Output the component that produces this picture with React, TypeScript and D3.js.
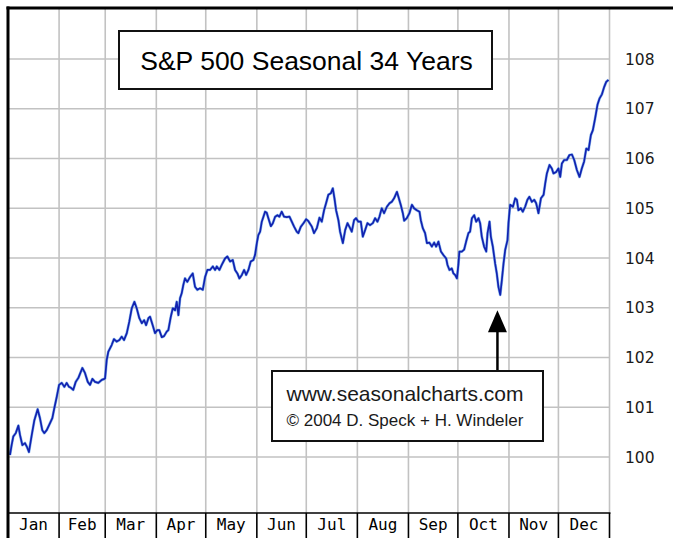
import React, { useRef, useEffect } from 'react'
import * as d3 from 'd3'

const months = ['Jan', 'Feb', 'Mar', 'Apr', 'May', 'Jun', 'Jul', 'Aug', 'Sep', 'Oct', 'Nov', 'Dec']
const monthDays = [31, 28, 31, 30, 31, 30, 31, 31, 30, 31, 30, 31]
const yTicks = [100, 101, 102, 103, 104, 105, 106, 107, 108]

// day of year (0..365)
const days = [
  1.2, 2.2, 3.2, 4.7, 6.3, 7.3, 8.7, 10.3, 11.4, 12.7, 14.4, 16.0, 18.0, 19.4, 20.8, 22.0, 23.5, 25.5, 26.9, 28.1,
  29.6, 31.0, 32.6, 34.2, 35.6, 37.0, 38.2, 39.6, 41.1, 42.7, 45.1, 46.7, 48.4, 49.8, 51.2, 52.8, 54.8, 56.9, 58.5, 58.9,
  59.9, 60.9, 62.9, 64.3, 66.0, 67.6, 69.0, 70.4, 72.1, 73.6, 75.1, 76.7, 78.1, 79.7, 81.2, 82.6, 83.8, 85.2, 86.2, 87.8,
  89.2, 90.6, 91.8, 93.3, 94.7, 96.3, 97.3, 98.8, 100.0, 101.4, 102.4, 103.4, 104.4, 105.4, 106.4, 107.4, 108.8, 110.5, 112.1, 113.5,
  114.9, 116.5, 118.2, 119.6, 121.0, 122.6, 124.3, 125.7, 126.7, 128.3, 129.7, 131.7, 133.1, 134.8, 136.4, 137.8, 139.2, 140.4, 141.9, 143.3,
  144.5, 145.9, 147.3, 148.9, 149.9, 151.0, 151.9, 153.0, 154.0, 155.0, 156.0, 157.0, 158.0, 159.5, 160.7, 162.1, 163.5, 164.7, 166.1, 167.5,
  169.2, 170.8, 172.2, 173.6, 175.2, 176.2, 177.7, 179.3, 180.9, 182.3, 184.4, 185.7, 187.4, 189.0, 190.4, 191.8, 193.0, 194.4, 195.9, 197.1,
  198.1, 199.1, 200.5, 201.5, 203.2, 204.6, 206.0, 207.6, 208.6, 210.0, 211.2, 212.6, 214.1, 215.3, 216.7, 218.1, 219.7, 221.4, 222.8, 224.2,
  225.4, 226.8, 228.2, 229.9, 231.5, 232.9, 234.3, 236.0, 236.9, 238.4, 239.6, 240.4, 242.0, 243.6, 245.1, 246.4, 248.1, 249.7, 250.5, 251.7,
  253.1, 254.2, 255.7, 257.2, 258.6, 259.8, 261.2, 262.7, 264.2, 265.9, 266.7, 267.9, 269.3, 270.3, 271.3, 272.4, 273.3, 273.9, 275.4, 276.8,
  278.0, 279.4, 280.4, 281.5, 282.9, 284.1, 285.5, 286.5, 287.5, 288.9, 290.2, 291.0, 292.2, 293.0, 294.2, 295.6, 296.6, 297.6, 298.7, 299.7,
  300.7, 301.7, 303.1, 303.7, 304.7, 306.4, 307.8, 308.8, 309.7, 311.2, 312.4, 313.8, 315.2, 316.4, 317.9, 319.3, 320.5, 321.9, 323.4, 325.0,
  326.0, 327.0, 328.6, 330.0, 331.0, 332.6, 334.0, 335.1, 336.1, 337.5, 339.1, 340.7, 342.2, 343.6, 345.2, 346.8, 348.2, 349.6, 350.9, 352.3,
  353.7, 354.9, 356.3, 357.7, 359.0, 360.4, 361.8, 363.0, 364.4,
]
const values = [
  100.04, 100.24, 100.41, 100.48, 100.63, 100.44, 100.24, 100.28, 100.21, 100.10, 100.44, 100.74, 100.96, 100.78, 100.54, 100.48, 100.54, 100.68, 100.78, 100.98,
  101.21, 101.45, 101.49, 101.41, 101.49, 101.41, 101.39, 101.35, 101.51, 101.59, 101.79, 101.69, 101.51, 101.45, 101.57, 101.51, 101.49, 101.55, 101.57, 101.58,
  101.95, 102.12, 102.25, 102.37, 102.32, 102.35, 102.42, 102.35, 102.49, 102.72, 102.99, 103.12, 102.99, 102.79, 102.69, 102.75, 102.65, 102.79, 102.82, 102.65,
  102.49, 102.55, 102.55, 102.41, 102.43, 102.52, 102.55, 102.82, 102.99, 102.95, 103.12, 102.85, 103.19, 103.29, 103.46, 103.59, 103.52, 103.62, 103.69, 103.42,
  103.36, 103.39, 103.36, 103.62, 103.76, 103.76, 103.83, 103.76, 103.83, 103.76, 103.86, 103.99, 104.03, 103.93, 103.96, 103.76, 103.69, 103.59, 103.66, 103.76,
  103.66, 103.76, 103.93, 103.96, 104.06, 104.30, 104.46, 104.53, 104.73, 104.83, 104.93, 104.91, 104.80, 104.64, 104.70, 104.83, 104.86, 104.83, 104.93, 104.83,
  104.82, 104.83, 104.73, 104.63, 104.53, 104.50, 104.63, 104.70, 104.78, 104.74, 104.63, 104.50, 104.60, 104.81, 104.73, 104.96, 105.10, 105.27, 105.30, 105.40,
  105.20, 104.96, 104.76, 104.53, 104.30, 104.56, 104.70, 104.60, 104.53, 104.76, 104.80, 104.73, 104.73, 104.43, 104.56, 104.70, 104.66, 104.70, 104.80, 104.73,
  104.83, 105.00, 104.90, 105.03, 105.10, 105.13, 105.20, 105.33, 105.23, 105.06, 104.90, 104.75, 104.80, 104.90, 105.07, 105.00, 104.96, 104.93, 104.76, 104.60,
  104.50, 104.30, 104.31, 104.23, 104.31, 104.23, 104.33, 104.13, 104.06, 103.99, 103.86, 103.76, 103.79, 103.69, 103.66, 103.59, 103.86, 104.13, 104.13, 104.17,
  104.33, 104.50, 104.53, 104.80, 104.86, 104.73, 104.80, 104.70, 104.43, 104.23, 104.13, 104.50, 104.73, 104.43, 104.23, 103.89, 103.69, 103.42, 103.26, 103.56,
  103.89, 104.16, 104.36, 104.70, 105.07, 105.03, 105.20, 105.17, 104.96, 105.00, 104.93, 105.03, 105.17, 105.23, 105.13, 105.17, 105.10, 104.90, 105.20, 105.27,
  105.50, 105.70, 105.87, 105.80, 105.70, 105.73, 105.80, 105.63, 105.90, 105.97, 105.97, 106.07, 106.08, 105.97, 105.77, 105.63, 105.80, 105.94, 106.20, 106.17,
  106.47, 106.57, 106.81, 107.08, 107.21, 107.29, 107.44, 107.54, 107.58,
]

const title = 'S&P 500 Seasonal 34 Years'
const credits = ['www.seasonalcharts.com', '© 2004 D. Speck + H. Windeler']
const arrowDay = 297 // the October low the arrow points at
const arrowValue = 103.15

export default function App() {
  const ref = useRef<SVGSVGElement>(null)

  useEffect(() => {
    const svg = d3.select(ref.current)
    svg.selectAll('*').remove()

    const left = 8
    const right = 609.5
    const top = 8
    const bottom = 513

    const x = d3.scaleLinear().domain([0, 365]).range([left, right])
    const y = d3.scaleLinear().domain([100, 108]).range([457, 59])

    const monthStarts = [0, ...d3.cumsum(monthDays)]

    svg.append('rect').attr('width', 673).attr('height', 538).attr('fill', '#fff')

    // grid
    const grid = svg.append('g').attr('stroke', '#c2c2c2').attr('stroke-width', 1.6)
    grid
      .selectAll('line.v')
      .data(monthStarts.slice(1))
      .join('line')
      .attr('class', 'v')
      .attr('x1', d => x(d))
      .attr('x2', d => x(d))
      .attr('y1', top)
      .attr('y2', bottom)
    grid
      .selectAll('line.h')
      .data(yTicks)
      .join('line')
      .attr('class', 'h')
      .attr('x1', left)
      .attr('x2', right)
      .attr('y1', d => y(d))
      .attr('y2', d => y(d))

    // the seasonal line
    const pts: [number, number][] = days.map((d, i) => [d, values[i]])
    const line = d3
      .line<[number, number]>()
      .x(d => x(d[0]))
      .y(d => y(d[1]))
    svg
      .append('path')
      .datum(pts)
      .attr('d', line)
      .attr('fill', 'none')
      .attr('stroke', '#5f9fe8')
      .attr('stroke-width', 2.8)
      .attr('stroke-linejoin', 'round')
      .attr('opacity', 0.7)
    svg
      .append('path')
      .datum(pts)
      .attr('d', line)
      .attr('fill', 'none')
      .attr('stroke', '#1222b0')
      .attr('stroke-width', 1.7)
      .attr('stroke-linejoin', 'round')

    // month axis boxes
    const axis = svg.append('g')
    axis
      .append('line')
      .attr('x1', left)
      .attr('x2', right + 1)
      .attr('y1', bottom)
      .attr('y2', bottom)
      .attr('stroke', '#000')
      .attr('stroke-width', 1.6)
    axis
      .selectAll('line.sep')
      .data(monthStarts.slice(1))
      .join('line')
      .attr('class', 'sep')
      .attr('x1', d => x(d))
      .attr('x2', d => x(d))
      .attr('y1', bottom)
      .attr('y2', 538)
      .attr('stroke', '#000')
      .attr('stroke-width', 1.6)
    axis
      .selectAll('text')
      .data(months)
      .join('text')
      .attr('x', (d, i) => x((monthStarts[i] + monthStarts[i + 1]) / 2))
      .attr('y', 530)
      .attr('text-anchor', 'middle')
      .attr('font-family', 'DejaVu Sans Mono, monospace')
      .attr('font-size', 16)
      .attr('fill', '#000')
      .text(d => d)

    // right value labels
    svg
      .append('g')
      .selectAll('text')
      .data(yTicks)
      .join('text')
      .attr('x', 625)
      .attr('y', d => y(d))
      .attr('dy', '0.36em')
      .attr('font-family', 'DejaVu Sans, sans-serif')
      .attr('font-size', 15.5)
      .attr('fill', '#1a1a1a')
      .text(d => d)

    // frame
    svg
      .append('line')
      .attr('x1', left)
      .attr('x2', left)
      .attr('y1', 6.5)
      .attr('y2', 538)
      .attr('stroke', '#000')
      .attr('stroke-width', 3)
    svg
      .append('line')
      .attr('x1', 6.5)
      .attr('x2', 673)
      .attr('y1', top)
      .attr('y2', top)
      .attr('stroke', '#000')
      .attr('stroke-width', 3)

    // title box
    svg
      .append('rect')
      .attr('x', 119)
      .attr('y', 31)
      .attr('width', 373)
      .attr('height', 58)
      .attr('fill', '#fff')
      .attr('stroke', '#111')
      .attr('stroke-width', 2)
    svg
      .append('text')
      .attr('x', 306.5)
      .attr('y', 69.5)
      .attr('text-anchor', 'middle')
      .attr('font-family', 'Liberation Sans, Arial, sans-serif')
      .attr('font-size', 26.5)
      .attr('fill', '#000')
      .text(title)

    // arrow to the October low
    const ax = x(arrowDay)
    const tipY = y(arrowValue) + 10
    svg
      .append('line')
      .attr('x1', ax)
      .attr('x2', ax)
      .attr('y1', tipY + 20)
      .attr('y2', 371)
      .attr('stroke', '#000')
      .attr('stroke-width', 2.5)
    svg
      .append('path')
      .attr('d', `M${ax},${tipY} L${ax - 9.5},${tipY + 22} L${ax + 9.5},${tipY + 22} Z`)
      .attr('fill', '#000')

    // credit box
    svg
      .append('rect')
      .attr('x', 272)
      .attr('y', 371)
      .attr('width', 271)
      .attr('height', 70)
      .attr('fill', '#fff')
      .attr('stroke', '#111')
      .attr('stroke-width', 2)
    svg
      .append('g')
      .selectAll('text')
      .data(credits)
      .join('text')
      .attr('x', 286.5)
      .attr('y', (d, i) => (i === 0 ? 401 : 425.5))
      .attr('font-family', 'Liberation Sans, Arial, sans-serif')
      .attr('font-size', (d, i) => (i === 0 ? 21 : 17))
      .attr('fill', '#1a1a1a')
      .text(d => d)
  }, [])

  return (
    <svg
      ref={ref}
      width={673}
      height={538}
      style={{ position: 'absolute', left: 0, top: 0 }}
    ></svg>
  )
}
